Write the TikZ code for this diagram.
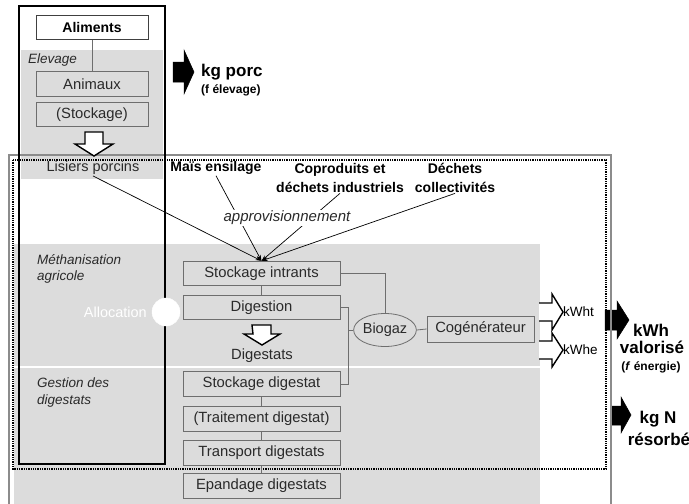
\documentclass[tikz,border=0pt]{standalone}
\usepackage{fontspec}
\setmainfont{Liberation Sans}
\usetikzlibrary{shapes.geometric,arrows.meta}
\definecolor{bggray}{HTML}{DCDCDC}
\definecolor{boxline}{HTML}{6E6E6E}
\definecolor{txt}{HTML}{2A2A2A}
\definecolor{framegray}{HTML}{8C8C8C}
\tikzset{
  fsz/.style={font=\fontsize{#1}{17}\selectfont},
  pbox/.style={draw=boxline, line width=0.8pt, minimum width=157pt, minimum height=24.5pt, inner sep=0pt, text=txt, fsz=14.8},
  ebox/.style={pbox, minimum width=112pt},
  plain/.style={text=txt, inner sep=1pt},
  bigbold/.style={font=\fontsize{17}{19}\selectfont\bfseries, inner sep=0pt},
  conn/.style={draw=boxline, line width=0.8pt},
  feed/.style={draw=black, line width=0.7pt, -{Stealth[length=6pt,width=4pt]}},
  whitearrow/.style={draw=black, fill=white, line width=1.4pt, line join=miter},
  blackarrow/.style={fill=black, draw=black, line width=0.5pt}
}
\begin{document}
\begin{tikzpicture}[x=1pt,y=-1pt]
\useasboundingbox (0,0) rectangle (689,504);
% gray regions
\fill[bggray] (21,50) rectangle (163,179);
\fill[bggray] (14,244) rectangle (540,365.5);
\fill[bggray] (14,368) rectangle (540,504);
% black output arrows
\fill[blackarrow] (173,62) -- (184,62) -- (184,50) -- (194,72) -- (184,94) -- (184,82) -- (173,82) -- cycle;
\fill[blackarrow] (605,310) -- (617,310) -- (617,301) -- (629,320) -- (617,339) -- (617,330) -- (605,330) -- cycle;
\fill[blackarrow] (611,406) -- (621,406) -- (621,397) -- (631,415) -- (621,433) -- (621,425) -- (611,425) -- cycle;
% frames
\draw[framegray, line width=2pt] (9,510) -- (9,155) -- (611,155) -- (611,510);
\draw[black, line width=1.6pt, dash pattern=on 1.3pt off 1pt] (13,160) rectangle (606,469);
\draw[black, line width=2.2pt] (19,6) rectangle (165,464);
% Elevage column
\node[ebox, fill=white, draw=black!75, text=black, font=\fontsize{14}{16}\selectfont\bfseries] (alim) at (92,27.5) {Aliments};
\node[plain, anchor=west, font=\fontsize{13.5}{16}\selectfont\itshape] (elev) at (27,60) {Elevage};
\node[ebox] (anim) at (92,84) {Animaux};
\node[ebox] (stock) at (92,114.5) {(Stockage)};
\draw[conn] (alim) -- (anim);
\draw[whitearrow] (85,132) -- (103,132) -- (103,144) -- (113,144) -- (94,156) -- (75,144) -- (85,144) -- cycle;
\node[plain, fsz=14.5] (lis) at (93,168) {Lisiers porcins};
% inputs
\node[plain, text=black, font=\fontsize{14}{17}\selectfont\bfseries] (mais) at (216,168) {Maïs ensilage};
\node[plain, text=black, align=center, font=\fontsize{14}{19}\selectfont\bfseries] (copro) at (340,177.5) {Coproduits et\\déchets industriels};
\node[plain, text=black, align=center, font=\fontsize{14}{19}\selectfont\bfseries] (dech) at (455,177.5) {Déchets\\collectivités};
% methanisation boxes
\node[pbox] (si) at (261.5,273.5) {Stockage intrants};
\node[pbox] (dig) at (261.5,307.5) {Digestion};
\node[pbox] (sd) at (261.5,384) {Stockage digestat};
\node[pbox] (td) at (261.5,419) {(Traitement digestat)};
\node[pbox] (tr) at (261.5,453) {Transport digestats};
\node[pbox] (ep) at (261.5,486) {Epandage digestats};
\draw[feed] (lis.south) -- (si.north);
\draw[feed] (mais.south) -- (si.north);
\draw[feed] (copro.south) -- (si.north);
\draw[feed] (dech.south) -- (si.north);
\node[fill=white, inner sep=1pt, text=txt, font=\fontsize{15}{17}\selectfont\itshape] (appro) at (287,218) {approvisionnement};
\draw[conn] (si) -- (dig);
\draw[conn] (sd) -- (td);
\draw[conn] (td) -- (tr);
\draw[conn] (tr) -- (ep);
\draw[whitearrow] (252,325) -- (271,325) -- (271,334) -- (280,334) -- (262,345) -- (244,334) -- (253,334) -- cycle;
\node[plain, fsz=14.8] (dgs) at (262,356) {Digestats};
% labels
\node[plain, anchor=west, align=left, font=\fontsize{13.5}{16.5}\selectfont\itshape] (meth) at (36,269) {Méthanisation\\agricole};
\node[plain, anchor=west, align=left, font=\fontsize{13.5}{16.5}\selectfont\itshape] (gest) at (36,392.5) {Gestion des\\digestats};
\node[fill=white, draw=white, circle, minimum size=28pt, inner sep=0pt] (alloc) at (166,312) {};
\node[text=white, anchor=east, inner sep=0pt, fsz=14.5] (alloctxt) at (147,312) {Allocation};
% biogaz
\node[ellipse, draw=boxline, line width=0.8pt, minimum width=55pt, minimum height=33pt, inner sep=0pt, text=txt, fsz=14.5] (bio) at (385,330) {Biogaz};
\node[pbox, minimum width=107pt, minimum height=26pt] (cog) at (480.5,329) {Cogénérateur};
\draw[conn] (si.east) -| (bio.north);
\draw[conn] (dig.east) -- ++(8,0) coordinate (j1) |- (sd.east);
\draw[conn] (j1 |- bio.west) -- (bio.west);
\draw[conn] (bio.east) -- (cog.west);
% energy arrows
\draw[whitearrow] (539,303) -- (552,303) -- (552,294) -- (563,312) -- (552,330) -- (552,321) -- (539,321);
\draw[whitearrow] (539,341) -- (552,341) -- (552,333) -- (563,350) -- (552,367) -- (552,359) -- (539,359);
\node[plain, text=black, anchor=west, inner sep=0pt, fsz=13.5] (kwht) at (563,312) {kWht};
\node[plain, text=black, anchor=west, inner sep=0pt, fsz=13.5] (kwhe) at (563,350) {kWhe};
% outputs
\node[bigbold, anchor=west] (kgp) at (201,72) {kg porc};
\node[anchor=west, inner sep=0pt, font=\fontsize{12}{14}\selectfont\bfseries] (fel) at (201,90) {(f élevage)};
\node[bigbold] (kwh) at (651,330) {kWh};
\node[bigbold] (valo) at (652,347.5) {valorisé};
\node[inner sep=0pt, font=\fontsize{12}{14}\selectfont\bfseries] (fen) at (651,367) {(\textit{f} énergie)};
\node[bigbold] (kgn) at (658,419) {kg N};
\node[bigbold] (reso) at (659,439) {résorbé};
\end{tikzpicture}
\end{document}
